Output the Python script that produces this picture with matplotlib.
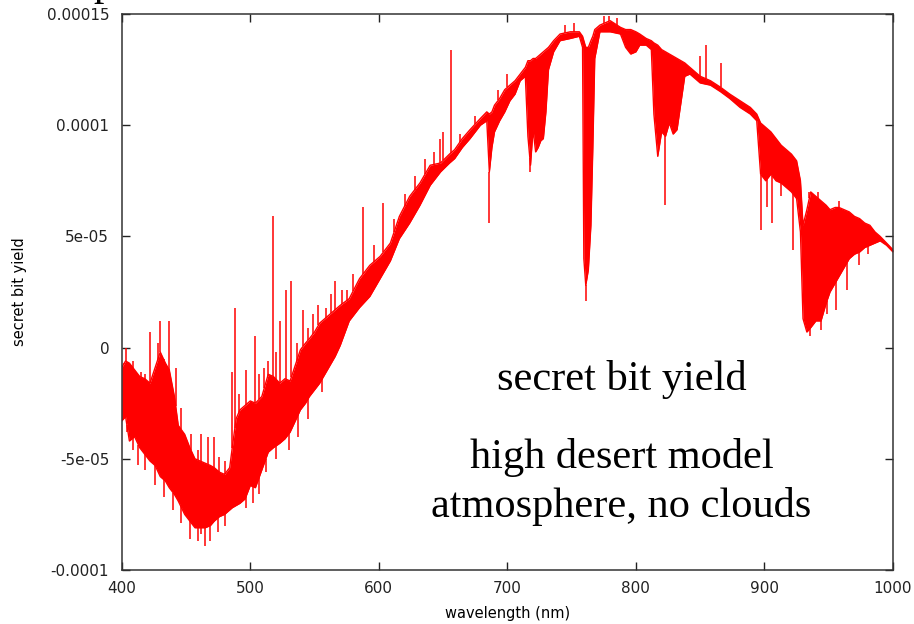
import numpy as np
import matplotlib
matplotlib.use("Agg")
import matplotlib.pyplot as plt

# spectrum, y in units of 1e-5
wavelength = [400, 403, 406, 410, 414, 418, 422, 426, 430, 434, 437, 441, 444, 449, 453,
              457, 461, 465, 469, 472, 476, 480, 484, 486, 489, 492, 496, 500, 504, 509,
              514, 518, 523, 527, 531, 535, 539, 543, 546, 550, 554, 558, 562, 566, 570,
              577, 585, 593, 601, 609, 616, 624, 632, 640, 648, 655, 659, 665, 671, 679,
              684, 686, 688, 690, 694, 698, 702, 706, 710, 714, 716, 718, 720, 722, 724,
              726, 728, 730, 732, 736, 741, 749, 756, 758.5, 759.5, 761, 763, 765, 766.5,
              768, 772, 780, 788, 792, 796, 800, 803, 808, 812, 814, 817, 820, 823, 826,
              829, 832, 835, 838, 842, 850, 858, 866, 873, 881, 889, 894, 897, 901, 905,
              909, 913, 917, 921, 925, 928, 930, 933, 936, 940, 944, 948, 951, 955, 958,
              962, 966, 970, 974, 978, 982, 986, 990, 995, 1000]
upper = [-0.9, -0.6, -0.7, -1.0, -1.3, -1.4, -1.6, -0.9, -0.2, -0.7, -1.0, -2.2, -3.5, -3.9, -4.5,
         -5.0, -5.1, -5.2, -5.3, -5.4, -5.6, -5.7, -5.4, -4.5, -3.2, -2.8, -2.6, -2.4, -2.5, -2.2,
         -1.2, -1.3, -1.6, -1.4, -1.5, -0.8, -0.1, 0.2, 0.4, 0.7, 1.1, 1.3, 1.5, 1.7, 1.9,
         2.2, 3.1, 3.7, 4.1, 4.7, 5.9, 6.8, 7.4, 8.2, 8.3, 8.7, 8.9, 9.4, 9.8, 10.3,
         10.6, 10.5, 10.6, 10.9, 11.2, 11.6, 11.8, 12.0, 12.3, 12.6, 12.9, 12.9, 13.0, 13.0, 13.1,
         13.2, 13.3, 13.4, 13.5, 13.8, 14.1, 14.2, 14.2, 14.0, 13.8, 13.5, 13.5, 13.8, 14.0,
         14.3, 14.5, 14.7, 14.4, 14.3, 14.3, 14.2, 14.1, 13.9, 13.8, 13.7, 13.6, 13.4, 13.3, 13.2,
         13.1, 13.0, 12.9, 12.8, 12.6, 12.2, 12.0, 11.7, 11.4, 11.1, 10.8, 10.5, 10.1, 9.9, 9.7,
         9.4, 9.1, 8.9, 8.7, 8.4, 7.5, 5.5, 6.2, 7.0, 6.8, 6.6, 6.4, 6.2, 6.3, 6.3,
         6.2, 6.1, 5.9, 5.8, 5.6, 5.5, 5.2, 5.0, 4.7, 4.4]
lower = [-3.3, -3.1, -4.2, -4.0, -4.5, -4.8, -5.1, -5.3, -5.8, -6.0, -6.3, -6.6, -6.9, -7.5, -7.8,
         -8.1, -8.1, -8.1, -8.0, -7.8, -7.6, -7.5, -7.3, -7.2, -7.1, -7.0, -6.8, -6.2, -6.3, -5.5,
         -4.7, -4.5, -4.3, -4.1, -3.8, -3.3, -2.8, -2.5, -2.2, -1.9, -1.6, -1.2, -0.8, -0.4, 0.1,
         1.2, 1.8, 2.3, 3.1, 3.9, 4.9, 5.6, 6.4, 7.3, 7.9, 8.3, 8.5, 9.0, 9.4, 10.0,
         10.2, 7.9, 9.0, 9.7, 10.2, 10.6, 11.1, 11.4, 12.0, 12.2, 9.5, 8.2, 9.8, 8.8, 9.0,
         9.3, 9.4, 10.6, 12.5, 13.3, 13.8, 13.9, 14.0, 13.5, 4.0, 2.8, 3.5, 5.5, 9.0,
         13.0, 14.2, 14.2, 14.1, 13.5, 13.2, 13.3, 13.6, 13.6, 13.4, 10.5, 8.6, 9.7, 9.5, 10.1,
         9.6, 9.8, 11.0, 12.2, 12.3, 11.9, 11.8, 11.5, 11.2, 10.8, 10.5, 10.2, 7.8, 7.5, 7.8,
         7.5, 7.4, 7.2, 7.0, 6.7, 5.2, 1.3, 0.7, 0.9, 1.2, 1.2, 2.0, 2.5, 2.9, 3.2,
         3.6, 4.0, 4.2, 4.3, 4.5, 4.6, 4.7, 4.8, 4.6, 4.3]

# isolated lines sticking out of the band: (wavelength, tip)
spikes_up = [(401.5, -0.7), (403, 0.0), (405, -1.0), (408.6, -0.6), (415, -1.1), (418.5, -1.2),
             (422, 0.7), (428, 0.2), (430, 1.2), (433, -0.5), (437, 1.2), (442, -0.9),
             (446, -2.7), (448, -4.4), (454, -3.9), (459, -4.6), (462, -3.9), (467, -4.0),
             (472, -4.0), (476, -4.9), (480, -5.1), (486, -1.1), (488, 1.8), (491, -2.1),
             (496.5, -1.0), (504, 0.5), (507, -1.2), (511, -0.9), (513.6, -0.6), (517.5, 5.9),
             (520, -0.2), (523, 1.2), (527.5, 2.6), (532, 3.0), (536, 0.2), (541, 1.7),
             (545, 0.9), (549, 1.5), (553, 1.9), (559, 1.8), (563, 2.4), (566, 3.0),
             (571, 2.6), (575, 2.6), (580, 3.3), (588, 6.3), (596, 4.6), (603.5, 6.5),
             (612, 5.8), (620, 6.9), (628, 7.7), (636, 8.5), (643, 8.8), (647.5, 9.4),
             (650, 9.7), (656.3, 13.4), (663, 9.6), (675, 10.4), (693, 11.6), (700, 12.3),
             (745, 14.5), (752, 14.6), (775, 14.9), (779, 14.9), (785, 14.8), (850, 13.1),
             (854.5, 13.6), (866, 12.8), (935, 7.0), (942, 7.0), (958, 6.6)]
spikes_down = [(404, -3.8), (409, -4.6), (413, -5.3), (418, -5.5), (426, -6.2), (433, -6.7),
               (440, -7.3), (446, -7.9), (453, -8.6), (459, -8.7), (462, -8.4), (465, -8.9),
               (469, -8.7), (475, -8.3), (480, -8.0), (497, -7.2), (502, -7.0), (507, -6.6),
               (512, -5.6), (520, -5.0), (530, -4.6), (537, -4.0), (545, -3.2), (556, -2.0),
               (686, 5.6), (717.5, 7.9), (761, 2.1), (823, 6.4), (897.5, 5.3), (902, 6.3),
               (906, 5.6), (913, 6.8), (922, 4.4), (935.4, 0.5), (944, 0.8), (948.6, 1.5),
               (956, 1.7), (964, 2.6), (973.5, 3.7), (980.5, 4.2)]

xticks = [400, 500, 600, 700, 800, 900, 1000]
yticks = [-0.0001, -0.00005, 0, 0.00005, 0.0001, 0.00015]
ytick_labels = ['-0.0001', '-5e-05', '0', '5e-05', '0.0001', '0.00015']
notes = ['secret bit yield', 'high desert model', 'atmosphere, no clouds']

scale = 1e-5
wl = np.array(wavelength)
hi = np.array(upper) * scale
lo = np.array(lower) * scale

fig = plt.figure(figsize=(9.14, 6.24), dpi=100)
ax = fig.add_axes([121.7 / 914, 1 - 570 / 624, (893 - 121.7) / 914, (570 - 14) / 624])

red = '#ff0000'
ax.fill_between(wl, lo, hi, color=red, lw=0)
ax.plot(wl, hi, color=red, lw=1)
ax.plot(wl, lo, color=red, lw=1)
for w, tip in spikes_up:
    ax.vlines(w, np.interp(w, wl, hi), tip * scale, color=red, lw=1.1)
for w, tip in spikes_down:
    ax.vlines(w, tip * scale, np.interp(w, wl, lo), color=red, lw=1.1)

ax.set_xlim(400, 1000)
ax.set_ylim(-0.0001, 0.00015)
ax.set_xticks(xticks)
ax.set_xticklabels([str(t) for t in xticks])
ax.set_yticks(yticks)
ax.set_yticklabels(ytick_labels)
ax.tick_params(direction='in', length=6, width=1, top=True, right=True, labelsize=11,
               colors='#222222')
ax.tick_params(axis='x', pad=8)
ax.tick_params(axis='y', pad=9)
for s in ax.spines.values():
    s.set_linewidth(1.1)
    s.set_color('#333333')

ax.set_xlabel('wavelength (nm)', fontsize=10.5, labelpad=7)
ax.set_ylabel('secret bit yield', fontsize=10.5, labelpad=14)

for txt, yb in zip(notes, [390, 468, 517]):
    fig.text(621.5 / 914, 1 - yb / 624, txt, ha='center', va='baseline',
             family='Liberation Serif', fontsize=30.5)

# bit of the slide title cut off at the top
fig.text(93 / 914, 1 + 5 / 624, 'p', ha='left', va='baseline',
         family='Liberation Serif', fontsize=30)

fig.savefig('out.png', dpi=100)
